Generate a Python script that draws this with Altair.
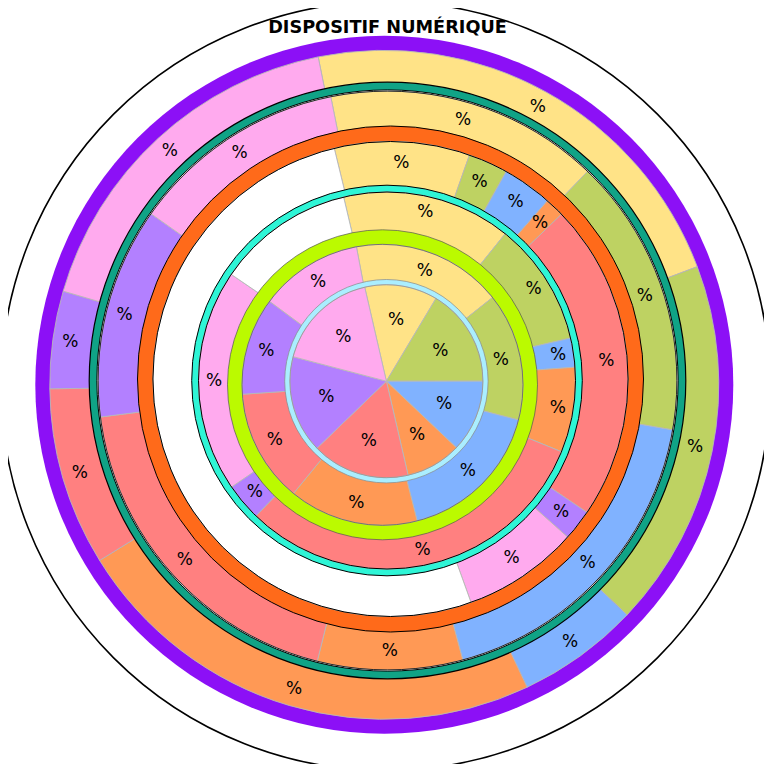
import math
import altair as alt
import pandas as pd

# ---------------- data ----------------
title_text = "DISPOSITIF NUMÉRIQUE"
categories = ["jaune", "vert", "bleu", "orange", "rouge", "violet", "rose"]
blank_cat = "vide"
label_text = "%"

pie_values = [12.2, 16.4, 12.1, 9.3, 16.4, 16.3, 17.3]
ring_a_values = [17.3, 14.7, 17.0, 14.9, 13.0, 11.2, 11.9]
ring_b_values = [14.5, 10.6, 2.5, 7.3, 31.1, 3.2, 19.1]
ring_b_blank = 11.8
ring_c_values = [9.2, 2.7, 3.4, 1.3, 21.7, 2.1, 7.9]
ring_c_blank = 51.7
ring_d_values = [15.3, 15.6, 18.1, 8.1, 19.1, 11.8, 12.1]
ring_e_values = [22.4, 17.8, 5.9, 23.2, 8.6, 4.7, 17.3]

# ---------------- style ----------------
cat_colors = ["#ffe387", "#bed262", "#80b2ff", "#ff9955", "#ff8080", "#b380ff", "#ffaaee"]
blank_color = "#ffffff"
OFF = 8  # page margin

color_scale = alt.Scale(domain=categories + [blank_cat], range=cat_colors + [blank_color])
one = pd.DataFrame({"v": [1]})


def disk(cx, cy, r, fill, stroke=None, sw=1.0):
    kw = dict(radius=r, fill=fill)
    if stroke:
        kw.update(stroke=stroke, strokeWidth=sw)
    return alt.Chart(one).mark_arc(**kw).encode(
        theta=alt.Theta("v:Q"), x=alt.value(cx - OFF), y=alt.value(cy - OFF)
    )


def outline(cx, cy, r, stroke, sw=1.0):
    return alt.Chart(one).mark_arc(radius=r, fillOpacity=0, stroke=stroke, strokeWidth=sw).encode(
        theta=alt.Theta("v:Q"), x=alt.value(cx - OFF), y=alt.value(cy - OFF)
    )


def ring(values, blank, cx, cy, r, r_lab, start_deg):
    cats = list(categories)
    vals = list(values)
    labs = [label_text] * len(vals)
    if blank is not None:
        cats.append(blank_cat)
        vals.append(blank)
        labs.append("")
    df = pd.DataFrame({"idx": list(range(len(vals))), "cat": cats, "v": vals, "lab": labs})
    s = math.radians(start_deg)
    theta = alt.Theta("v:Q", stack=True, scale=alt.Scale(range=[s, s + 2 * math.pi]))
    base = alt.Chart(df).encode(
        theta=theta,
        order=alt.Order("idx:Q"),
        x=alt.value(cx - OFF),
        y=alt.value(cy - OFF),
    )
    arcs = base.mark_arc(radius=r, stroke="#b8b8b8", strokeWidth=0.9).encode(
        color=alt.Color("cat:N", scale=color_scale, legend=None)
    )
    texts = base.mark_text(
        radius=r_lab, fontSize=17, font="DejaVu Sans", color="black",
        align="center", baseline="middle"
    ).encode(text="lab:N", detail="cat:N")
    return [arcs, texts]


layers = []
# outer circle
layers.append(disk(385.5, 386, 384.5, "#ffffff", "#000000", 1.6))
# purple ring + ring E
P = (384.3, 384.8)
layers.append(disk(P[0], P[1], 349, "#8c10f6"))
layers += ring(ring_e_values, None, P[0], P[1], 334.5, 317, -11.4)
# teal ring + ring D
T = (387.5, 380.5)
layers.append(disk(T[0], T[1], 298.3, "#10a386", "#000000", 1.2))
layers.append(disk(T[0], T[1], 290.6, "#ffffff", "#000000", 1.0))
layers += ring(ring_d_values, None, T[0], T[1], 289.4, 271, -11.3)
layers.append(outline(T[0], T[1], 289.4, "#000000", 0.8))
# orange ring + ring C
O = (390.5, 379.0)
layers.append(disk(O[0], O[1], 253, "#ff6a1a", "#000000", 1.0))
layers += ring(ring_c_values, ring_c_blank, O[0], O[1], 237.5, 216.5, -13.7)
layers.append(outline(O[0], O[1], 237.5, "#000000", 1.0))
# cyan ring + ring B
C = (387.0, 380.5)
layers.append(disk(C[0], C[1], 195.3, "#2ef5d6", "#000000", 1.0))
layers += ring(ring_b_values, ring_b_blank, C[0], C[1], 188.5, 173, -13.3)
layers.append(outline(C[0], C[1], 188.5, "#000000", 1.0))
# lime ring + ring A
L = (382.5, 384.8)
layers.append(disk(L[0], L[1], 155, "#bbfa00", "#555555", 0.7))
layers += ring(ring_a_values, None, L[0], L[1], 140.5, 121, -10.7)
layers.append(outline(L[0], L[1], 140.5, "#555555", 0.7))
# light blue ring + pie
Q = (386.4, 381.2)
layers.append(disk(Q[0], Q[1], 101.7, "#aaeeff", "#888888", 0.7))
layers += ring(pie_values, None, Q[0], Q[1], 96.5, 62, -13.0)
layers.append(outline(Q[0], Q[1], 96.5, "#888888", 0.6))

# title
title = alt.Chart(pd.DataFrame({"t": [title_text]})).mark_text(
    fontSize=17.7, fontWeight="bold", font="DejaVu Sans", align="center", baseline="alphabetic", color="black"
).encode(text="t:N", x=alt.value(387.5 - OFF), y=alt.value(33 - OFF))
layers.append(title)

chart = (
    alt.layer(*layers)
    .resolve_scale(theta="independent")
    .properties(width=756, height=756, padding=0, autosize=alt.AutoSizeParams(type="none"))
    .configure_view(strokeWidth=0)
)

chart.save("out.html", embed_options={"renderer": "svg", "actions": False})
